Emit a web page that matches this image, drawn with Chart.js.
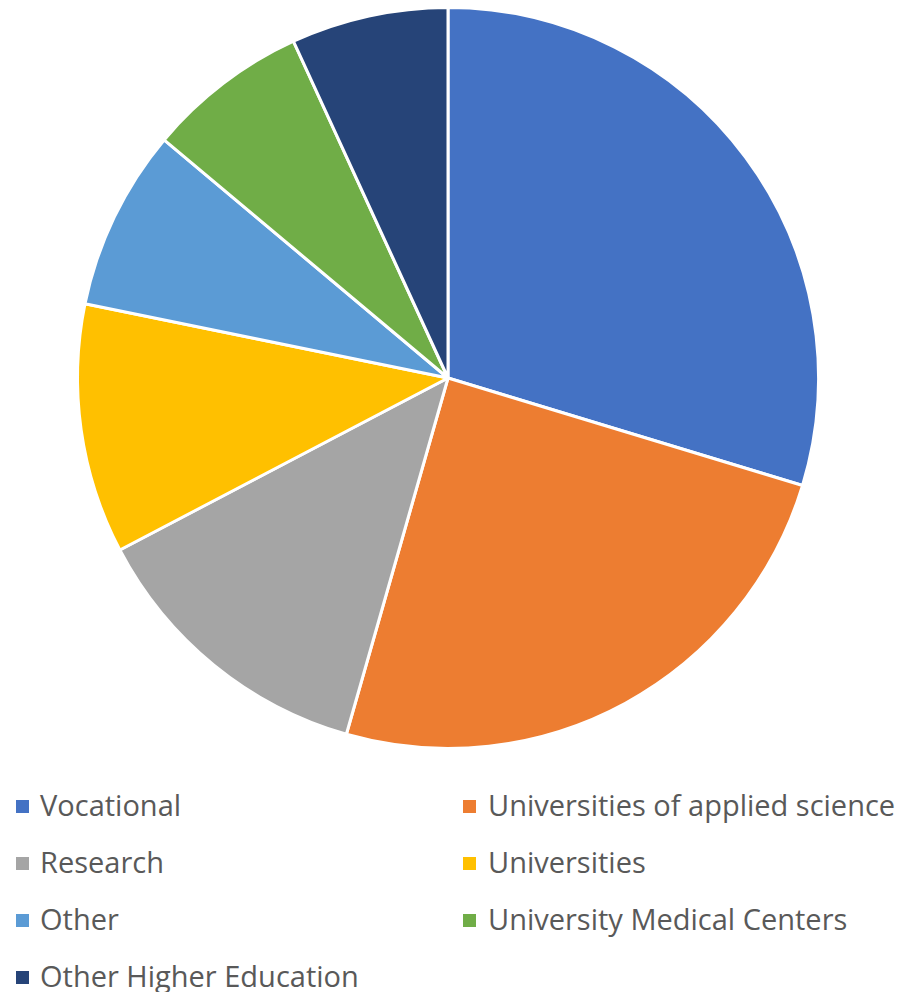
<!DOCTYPE html>
<html>
<head>
<meta charset="utf-8">
<script src="https://cdn.jsdelivr.net/npm/chart.js@4/dist/chart.umd.min.js"></script>
<style>
  html, body { margin: 0; padding: 0; background: #ffffff; }
  #wrap { position: relative; width: 902px; height: 992px; overflow: hidden; }
  #chartBox { position: absolute; left: 0; top: 0; width: 902px; height: 760px; }
  #legend { position: absolute; left: 0; top: 780px; width: 902px; height: 212px;
            font-family: "Open Sans", sans-serif; font-size: 29px; color: #595959; }
  .item { position: absolute; white-space: nowrap; line-height: 1; }
  .sw { position: absolute; width: 13px; height: 13px; }
  .tx { position: absolute; }
</style>
</head>
<body>
<div id="wrap">
  <div id="chartBox"><canvas id="c"></canvas></div>
  <div id="legend"></div>
</div>
<script>
const categories = ["Vocational", "Universities of applied science", "Research", "Universities", "Other", "University Medical Centers", "Other Higher Education"];
const shares = [29.7, 24.75, 12.9, 10.9, 7.9, 7.05, 6.85];
const colors = ["#4472C4", "#ED7D31", "#A5A5A5", "#FFC000", "#5B9BD5", "#70AD47", "#264478"];

new Chart(document.getElementById('c'), {
  type: 'pie',
  data: {
    labels: categories,
    datasets: [{
      data: shares,
      backgroundColor: colors,
      borderColor: '#ffffff',
      borderWidth: 3
    }]
  },
  options: {
    responsive: true,
    maintainAspectRatio: false,
    animation: false,
    layout: { padding: { left: 76, right: 82, top: 6, bottom: 10 } },
    plugins: { legend: { display: false }, tooltip: { enabled: false } }
  }
});

// HTML legend, two columns, built from the same arrays
const legend = document.getElementById('legend');
categories.forEach((name, i) => {
  const col = i % 2, row = Math.floor(i / 2);
  const item = document.createElement('div');
  item.className = 'item';
  item.style.left = (col === 0 ? 16 : 463) + 'px';
  item.style.top = (row * 57) + 'px';
  const sw = document.createElement('div');
  sw.className = 'sw';
  sw.style.background = colors[i];
  sw.style.left = '0px';
  sw.style.top = '20px';
  const tx = document.createElement('div');
  tx.className = 'tx';
  tx.style.left = (col === 0 ? 24 : 25) + 'px';
  tx.style.top = '10px';
  tx.textContent = name;
  item.appendChild(sw);
  item.appendChild(tx);
  legend.appendChild(item);
});
</script>
</body>
</html>
